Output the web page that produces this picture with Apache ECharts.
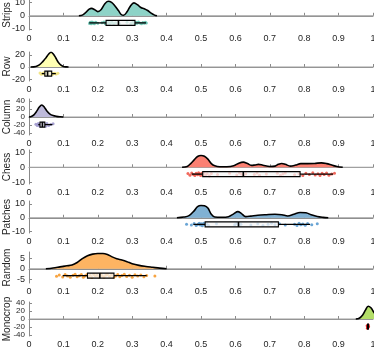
<!DOCTYPE html>
<html>
<head>
<meta charset="utf-8">
<script src="https://cdn.jsdelivr.net/npm/echarts@6/dist/echarts.min.js"></script>
<style>
  html, body { margin: 0; padding: 0; background: #fff; }
  #chart { width: 374px; height: 347px; }
</style>
</head>
<body>
<div id="chart"></div>
<script>
// panel names (top to bottom)
var panels = ["Strips", "Row", "Column", "Chess", "Patches", "Random", "Monocrop"];
var xTicks = [0, 0.1, 0.2, 0.3, 0.4, 0.5, 0.6, 0.7, 0.8, 0.9, 1];
var yTicks = [[-10, 0, 10], [-20, 0, 20], [-40, -20, 0, 20, 40], [-10, 0, 10], [-10, 0, 10], [-5, 0, 5], [-40, -20, 0, 20, 40]];

// density clouds [x, density]
var stripsCloud = [[0.145,0],[0.155,0.5],[0.165,2.5],[0.175,5],[0.182,5.6],[0.19,4.8],[0.2,3.2],[0.21,4.8],[0.22,9],[0.23,11],[0.24,10.2],[0.25,7.5],[0.26,4],[0.268,1],[0.275,0.4],[0.285,3],[0.295,7.5],[0.305,9.8],[0.315,8.5],[0.325,6.3],[0.335,5.4],[0.345,4],[0.355,2],[0.365,0.5],[0.372,0]];
var rowCloud = [[0.005,0],[0.02,1],[0.03,3.5],[0.04,9],[0.05,16],[0.058,22],[0.064,24.5],[0.07,22],[0.078,15],[0.085,8],[0.092,3.5],[0.1,1],[0.108,0.2],[0.115,0]];
var columnCloud = [[0,0],[0.008,2],[0.015,6],[0.022,14],[0.03,25],[0.037,30],[0.045,24],[0.052,15],[0.06,8],[0.07,3.5],[0.08,1.5],[0.09,0.5],[0.1,0]];
var chessCloud = [[0.445,0],[0.46,0.6],[0.47,2.5],[0.48,5],[0.49,7.3],[0.5,8],[0.51,7.5],[0.52,5.5],[0.53,2.5],[0.54,1],[0.555,0.4],[0.575,0.4],[0.595,1],[0.61,2.8],[0.623,3.5],[0.635,2.5],[0.647,1.3],[0.657,1.6],[0.667,2],[0.68,1.4],[0.7,0.5],[0.715,0.8],[0.725,2],[0.735,2.6],[0.745,2],[0.76,0.8],[0.775,1.5],[0.79,2.5],[0.81,2.5],[0.83,2.6],[0.85,3],[0.865,2.5],[0.88,1.5],[0.895,0.5],[0.912,0]];
var patchesCloud = [[0.43,0],[0.45,0.5],[0.465,1.5],[0.48,5],[0.49,8],[0.5,8.8],[0.51,8.6],[0.52,7],[0.53,2.5],[0.54,0.6],[0.56,0.4],[0.58,0.8],[0.595,2.8],[0.607,4.4],[0.617,3.2],[0.63,0.8],[0.645,1.2],[0.665,1.8],[0.69,2.2],[0.715,2.5],[0.735,2.2],[0.752,1.3],[0.77,2.6],[0.788,3.8],[0.805,3.6],[0.82,2.2],[0.838,0.9],[0.855,0.3],[0.87,0]];
var randomCloud = [[0.049,0],[0.07,0.4],[0.09,0.9],[0.11,1.4],[0.125,1.8],[0.14,3],[0.155,4.8],[0.17,6.2],[0.185,7],[0.2,7.3],[0.215,7.3],[0.228,6.8],[0.24,5.8],[0.255,4.8],[0.27,4.2],[0.285,3.4],[0.3,2.4],[0.32,1.6],[0.34,1.1],[0.36,0.7],[0.38,0.3],[0.4,0]];
var monocropCloud = [[0.95,0],[0.96,2],[0.97,10],[0.978,22],[0.986,32],[0.994,28],[1.0,20],[1.01,8],[1.02,0]];

// rain (jittered raw points) [x, offset]
var stripsRain = [[0.176,-5.8],[0.178,-5.0],[0.181,-6.0],[0.183,-4.8],[0.185,-5.5],[0.188,-5.2],[0.19,-6.1],[0.194,-4.9],[0.2,-5.6],[0.212,-5.3],[0.218,-4.7],[0.222,-6.0],[0.225,-5.1],[0.228,-5.7],[0.231,-4.9],[0.234,-6.2],[0.237,-5.4],[0.241,-4.8],[0.246,-5.9],[0.252,-5.2],[0.262,-5.6],[0.285,-5.0],[0.296,-5.8],[0.302,-4.9],[0.305,-5.5],[0.308,-6.1],[0.311,-5.0],[0.314,-5.7],[0.318,-4.8],[0.322,-5.4],[0.327,-6.0],[0.331,-5.1],[0.335,-5.7],[0.338,-4.9],[0.341,-5.5]];
var rowRain = [[0.032,-10],[0.036,-12],[0.04,-11],[0.043,-9.5],[0.046,-12.5],[0.049,-10.5],[0.051,-11.8],[0.054,-9.8],[0.056,-12],[0.059,-10.8],[0.062,-11.6],[0.065,-10],[0.068,-12.3],[0.071,-11],[0.075,-10.2],[0.079,-11.8],[0.084,-10.6]];
var columnRain = [[0.02,-18],[0.024,-21],[0.027,-16],[0.03,-20],[0.032,-23],[0.034,-17],[0.036,-19],[0.038,-22],[0.04,-15],[0.042,-20],[0.045,-18],[0.048,-23],[0.052,-16],[0.057,-21],[0.063,-19],[0.07,-17]];
var chessRain = [[0.462,-4.2],[0.468,-5.4],[0.473,-3.8],[0.478,-4.9],[0.482,-5.6],[0.486,-4.1],[0.49,-5.1],[0.493,-3.7],[0.496,-4.6],[0.499,-5.5],[0.502,-4.0],[0.505,-5.0],[0.509,-3.9],[0.513,-5.3],[0.518,-4.4],[0.524,-5.7],[0.53,-4.2],[0.548,-4.8],[0.583,-4.1],[0.604,-5.2],[0.612,-3.9],[0.618,-4.7],[0.624,-5.5],[0.63,-4.3],[0.655,-4.9],[0.663,-3.8],[0.67,-5.3],[0.69,-4.5],[0.722,-4.0],[0.731,-5.4],[0.738,-4.6],[0.745,-3.9],[0.772,-5.1],[0.785,-4.4],[0.796,-5.6],[0.805,-4.0],[0.815,-4.9],[0.825,-3.7],[0.832,-5.2],[0.84,-4.3],[0.846,-5.5],[0.852,-4.1],[0.858,-4.8],[0.865,-3.9],[0.872,-5.3],[0.88,-4.5],[0.888,-4.0]];
var patchesRain = [[0.458,-4.6],[0.472,-5.3],[0.48,-4.2],[0.486,-5.6],[0.491,-4.7],[0.495,-3.9],[0.498,-5.2],[0.501,-4.4],[0.504,-5.8],[0.508,-4.0],[0.512,-5.1],[0.517,-4.5],[0.522,-5.5],[0.545,-4.3],[0.598,-5.0],[0.604,-4.1],[0.61,-5.4],[0.616,-4.6],[0.645,-5.2],[0.665,-4.3],[0.68,-5.5],[0.695,-4.7],[0.705,-3.9],[0.715,-5.0],[0.728,-4.4],[0.745,-5.3],[0.772,-4.6],[0.779,-5.6],[0.785,-4.0],[0.79,-5.1],[0.796,-4.5],[0.803,-5.4],[0.81,-4.2],[0.822,-5.0],[0.838,-4.3]];
var randomRain = [[0.08,-3.6],[0.088,-3.0],[0.098,-3.9],[0.105,-2.8],[0.112,-3.5],[0.12,-4.1],[0.128,-3.1],[0.134,-2.6],[0.14,-3.8],[0.146,-3.3],[0.152,-2.7],[0.158,-4.0],[0.163,-3.4],[0.168,-2.9],[0.173,-3.7],[0.178,-3.1],[0.183,-4.2],[0.188,-2.8],[0.193,-3.5],[0.198,-3.0],[0.203,-3.9],[0.208,-2.6],[0.213,-3.3],[0.218,-4.0],[0.223,-3.1],[0.228,-2.7],[0.234,-3.6],[0.24,-3.0],[0.246,-4.1],[0.252,-3.4],[0.258,-2.8],[0.264,-3.8],[0.27,-3.2],[0.277,-2.6],[0.284,-3.7],[0.292,-3.1],[0.3,-4.0],[0.308,-2.9],[0.316,-3.5],[0.325,-3.0],[0.334,-3.8],[0.342,-3.2],[0.366,-3.4]];
var monocropRain = [[0.983,-17],[0.985,-21],[0.987,-19],[0.984,-23],[0.986,-15]];

// box stats [whiskerLow, q1, median, q3, whiskerHigh, offset]
var stripsBox = [0.175, 0.224, 0.26, 0.308, 0.34, -5.4];
var rowBox = [0.037, 0.046, 0.054, 0.066, 0.078, -11];
var columnBox = [0.027, 0.032, 0.039, 0.046, 0.068, -19];
var chessBox = [0.473, 0.505, 0.623, 0.788, 0.884, -4.6];
var patchesBox = [0.478, 0.512, 0.609, 0.725, 0.817, -4.8];
var randomBox = [0.098, 0.17, 0.206, 0.247, 0.342, -3.3];
var monocropBox = [0.983, 0.984, 0.985, 0.986, 0.987, -19];

var clouds = [stripsCloud, rowCloud, columnCloud, chessCloud, patchesCloud, randomCloud, monocropCloud];
var rains = [stripsRain, rowRain, columnRain, chessRain, patchesRain, randomRain, monocropRain];
var boxes = [stripsBox, rowBox, columnBox, chessBox, patchesBox, randomBox, monocropBox];

// layout / style
var colors = ["#8dd3c7", "#ffffb3", "#bebada", "#fb8072", "#80b1d3", "#fdb462", "#b3de69"];
var rainColors = ["#5fc0ad", "#f2e27a", "#9d97cc", "#f0584a", "#5a9bd0", "#f79a2c", "#e01010"];
var gridTop = [0, 52, 99, 150, 201, 252, 302];
var gridBottom = [30, 81, 135, 184, 233, 283, 336];
var yMin = [-10.8, -23.3, -45, -11.3, -11, -6.8, -42.5];
var yMax = [12, 25, 45, 11.7, 12.1, 8, 42.5];
var yLabelSize = [9, 9, 8, 9, 9, 9, 8];
var yLabelLine = [9, 9, 7, 9, 9, 9, 7];

var axisColor = "#8a8a8a";
var textColor = "#262626";
var font = "Liberation Sans";

var grids = [], xAxes = [], yAxes = [], series = [];
panels.forEach(function (name, i) {
    grids.push({ left: 29, right: 1, top: gridTop[i], height: gridBottom[i] - gridTop[i], outerBoundsMode: "none" });
    xAxes.push({
        type: "value", gridIndex: i, min: 0, max: 1, interval: 0.1,
        axisLine: { show: true, lineStyle: { color: axisColor, width: 1 } },
        axisTick: { show: true, inside: true, length: 3, lineStyle: { color: axisColor } },
        axisLabel: { color: textColor, fontSize: 9, lineHeight: 9, fontFamily: font, margin: 4,
                     showMaxLabel: true, showMinLabel: true, hideOverlap: false },
        splitLine: { show: false }
    });
    yAxes.push({
        type: "value", gridIndex: i, min: yMin[i], max: yMax[i],
        name: name, nameLocation: "middle", nameGap: 17, nameRotate: 90, nameMoveOverlap: false,
        nameTextStyle: { color: textColor, fontSize: 10, fontFamily: font },
        axisLine: { show: true, lineStyle: { color: axisColor, width: 1 } },
        axisTick: { show: true, inside: true, length: 3, interval: 0, customValues: yTicks[i], lineStyle: { color: axisColor } },
        axisLabel: { color: textColor, fontSize: yLabelSize[i], lineHeight: yLabelLine[i], fontFamily: font, margin: 4,
                     interval: 0, hideOverlap: false, customValues: yTicks[i] },
        splitLine: { show: false }
    });
    // zero reference line
    series.push({
        type: "line", xAxisIndex: i, yAxisIndex: i, data: [[xTicks[0], 0], [xTicks[xTicks.length - 1], 0]],
        symbol: "none", silent: true, z: 1,
        lineStyle: { color: "#a0a0a0", width: 1.2 }
    });
    // rain
    series.push({
        type: "scatter", xAxisIndex: i, yAxisIndex: i, data: rains[i],
        symbolSize: 3, silent: true, z: 2,
        itemStyle: { color: rainColors[i], opacity: 0.9 }
    });
    // cloud
    series.push({
        type: "line", xAxisIndex: i, yAxisIndex: i, data: clouds[i],
        symbol: "none", smooth: 0.35, clip: true, silent: true, z: 3,
        lineStyle: { color: "#000", width: 1.6 },
        areaStyle: { color: colors[i], opacity: 1, origin: 0 }
    });
    // box
    series.push({
        type: "custom", xAxisIndex: i, yAxisIndex: i, data: [boxes[i]], silent: true, z: 4,
        renderItem: function (params, api) {
            var yc = api.value(5);
            var lo = api.coord([api.value(0), yc]);
            var q1 = api.coord([api.value(1), yc]);
            var md = api.coord([api.value(2), yc]);
            var q3 = api.coord([api.value(3), yc]);
            var hi = api.coord([api.value(4), yc]);
            var h = 2.5;
            return {
                type: "group",
                children: [
                    { type: "line", shape: { x1: lo[0], y1: lo[1], x2: q1[0], y2: q1[1] }, style: { stroke: "#000", lineWidth: 1.3 } },
                    { type: "line", shape: { x1: q3[0], y1: q3[1], x2: hi[0], y2: hi[1] }, style: { stroke: "#000", lineWidth: 1.3 } },
                    { type: "rect", shape: { x: q1[0], y: q1[1] - h, width: Math.max(q3[0] - q1[0], 1), height: 2 * h },
                      style: { fill: "rgba(245,245,245,0.75)", stroke: "#000", lineWidth: 1.1 } },
                    { type: "line", shape: { x1: md[0], y1: md[1] - h, x2: md[0], y2: md[1] + h }, style: { stroke: "#000", lineWidth: 1.6 } }
                ]
            };
        }
    });
});

var chart = echarts.init(document.getElementById("chart"));
chart.setOption({
    animation: false,
    backgroundColor: "#fff",
    textStyle: { fontFamily: font },
    grid: grids,
    xAxis: xAxes,
    yAxis: yAxes,
    series: series
});
window.addEventListener("resize", function () {
    chart.resize();
});
</script>
</body>
</html>
